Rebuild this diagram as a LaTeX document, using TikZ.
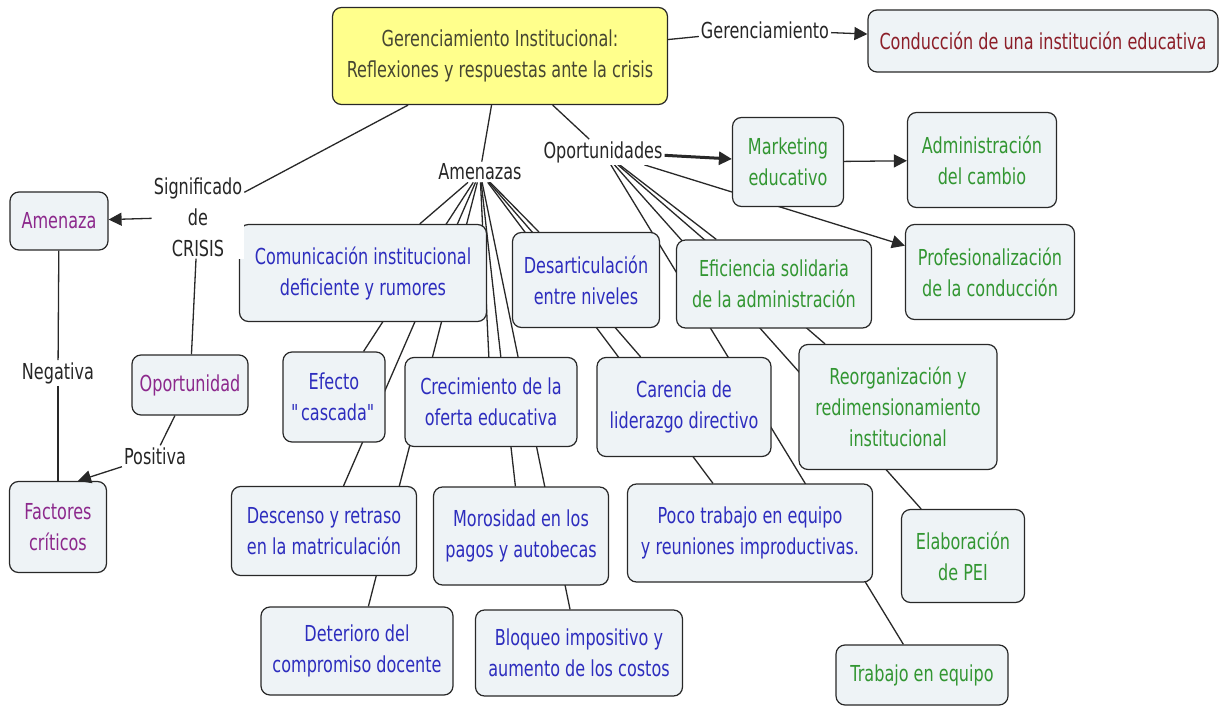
\documentclass[tikz,border=0pt]{standalone}
\usepackage{fontspec}
\setmainfont{DejaVu Sans}[FakeStretch=0.73]
\usetikzlibrary{arrows.meta,backgrounds}
\definecolor{boxfill}{RGB}{238,243,246}
\definecolor{titlefill}{RGB}{255,255,140}
\definecolor{titletext}{RGB}{70,70,50}
\definecolor{threat}{RGB}{45,45,190}
\definecolor{chance}{RGB}{50,150,50}
\definecolor{crisis}{RGB}{140,40,140}
\definecolor{wine}{RGB}{140,30,40}
\definecolor{wire}{RGB}{40,40,40}

\begin{document}
\begin{tikzpicture}[x=1pt,y=-1pt,
every node/.style = {font=\fontsize{22}{31}\selectfont, align=center},
  concept/.style = {draw=wire, line width=1.2pt, rounded corners=9pt, fill=boxfill, inner sep=0pt},
  phrase/.style = {fill=white, inner sep=2pt, text=black!85},
  link/.style = {draw=wire, line width=1.3pt},
  arrow/.style = {link, -{Triangle[length=13pt,width=13pt]}}
]
\useasboundingbox (0,0) rectangle (1222,708);
\node[concept, fill=titlefill, text=titletext, minimum width=335pt, minimum height=97pt] (main) at (500,56) {Gerenciamiento Institucional:\\Reflexiones y respuestas ante la crisis};
\node[concept, text=wine, minimum width=350pt, minimum height=62pt] (cond) at (1043,41) {Conducción de una institución educativa};
\node[concept, text=crisis, minimum width=98pt, minimum height=58pt] (amza) at (59,221) {Amenaza};
\node[concept, text=crisis, minimum width=116pt, minimum height=60pt] (opdad) at (190,385) {Oportunidad};
\node[concept, text=crisis, minimum width=97pt, minimum height=91pt] (fact) at (58,527) {Factores\\críticos};
\node[concept, text=chance, minimum width=111pt, minimum height=89pt] (mkt) at (788,162) {Marketing\\educativo};
\node[concept, text=chance, minimum width=149pt, minimum height=95pt] (adm) at (982,160) {Administración\\del cambio};
\node[concept, text=chance, minimum width=169pt, minimum height=95pt] (prof) at (990,272) {Profesionalización\\de la conducción};
\node[concept, text=chance, minimum width=195pt, minimum height=88pt] (efi) at (774,284) {Eficiencia solidaria\\de la administración};
\node[concept, text=chance, minimum width=198pt, minimum height=125pt] (reo) at (898,407) {Reorganización y\\redimensionamiento\\institucional};
\node[concept, text=chance, minimum width=123pt, minimum height=93pt] (pei) at (963,556) {Elaboración\\de PEI};
\node[concept, text=chance, minimum width=172pt, minimum height=60pt] (trab) at (922,675) {Trabajo en equipo};
\node[concept, text=threat, minimum width=247pt, minimum height=97pt] (com) at (363,273) {Comunicación institucional\\deficiente y rumores};
\node[concept, text=threat, minimum width=147pt, minimum height=95pt] (desa) at (586,280) {Desarticulación\\entre niveles};
\node[concept, text=threat, minimum width=102pt, minimum height=90pt] (casc) at (334,397) {Efecto\\\textquotedbl cascada\textquotedbl};
\node[concept, text=threat, minimum width=172pt, minimum height=89pt] (crec) at (491,402) {Crecimiento de la\\oferta educativa};
\node[concept, text=threat, minimum width=174pt, minimum height=99pt] (lid) at (684,407) {Carencia de\\liderazgo directivo};
\node[concept, text=threat, minimum width=185pt, minimum height=89pt] (desc) at (324,531) {Descenso y retraso\\en la matriculación};
\node[concept, text=threat, minimum width=175pt, minimum height=98pt] (mor) at (521,536) {Morosidad en los\\pagos y autobecas};
\node[concept, text=threat, minimum width=245pt, minimum height=98pt] (poco) at (750,533) {Poco trabajo en equipo\\y reuniones improductivas.};
\node[concept, text=threat, minimum width=192pt, minimum height=88pt] (det) at (357,651) {Deterioro del\\compromiso docente};
\node[concept, text=threat, minimum width=207pt, minimum height=86pt] (bloq) at (579,653) {Bloqueo impositivo y\\aumento de los costos};
\node[phrase] (ger) at (765,30) {Gerenciamiento};
\node[phrase] (sig) at (198,217) {Significado\\de\\CRISIS};
\node[phrase] (neg) at (58,373) {Negativa};
\node[phrase] (pos) at (155,456) {Positiva};
\node[phrase] (amen) at (480,172) {Amenazas};
\node[phrase] (opor) at (603,152) {Oportunidades};
\begin{pgfonlayer}{background}
\fill[white] (0,0) rectangle (1222,708);
\foreach \t in {com,desa,casc,crec,lid,desc,mor,poco,det,bloq}
  \draw[link] (amen) -- (\t);
\foreach \t in {efi,reo,pei,trab}
  \draw[link] (opor) -- (\t);
\draw[arrow] (opor) -- (prof);
\end{pgfonlayer}
\draw[link] (main) -- (ger);
\draw[arrow] (ger) -- (cond);
\draw[link] (main) -- (sig);
\draw[arrow] (sig) -- (amza);
\draw[link] (sig) -- (opdad);
\draw[link] (amza) -- (neg);
\draw[link] (neg) -- (fact);
\draw[link] (opdad) -- (pos);
\draw[arrow] (pos) -- ([xshift=20pt]fact.north);
\draw[link] (main) -- (amen);
\draw[link] (main) -- (opor);
\draw[arrow, line width=3pt] (opor) -- (mkt);
\draw[arrow] (mkt) -- (adm);
\end{tikzpicture}
\end{document}
